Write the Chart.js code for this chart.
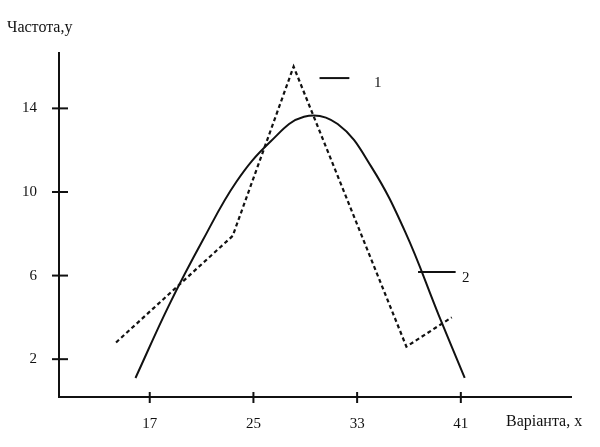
<!DOCTYPE html>
<html>
<head>
<meta charset="utf-8">
<script src="https://cdn.jsdelivr.net/npm/chart.js@4"></script>
<style>
  html, body { margin: 0; padding: 0; background: #fff; }
  #wrap { width: 600px; height: 447px; }
</style>
</head>
<body>
<div id="wrap"><canvas id="freqChart" width="600" height="447"></canvas></div>
<script>
// polygon of frequencies (dashed, 1)
const polyX = [14.4, 23.4, 28.1, 36.8, 40.3];
const polyY = [2.8, 7.9, 16.0, 2.6, 4.0];

// fitted curve (solid, 2)
const curveX = [15.9, 18.5, 21.1, 23.7, 26.3, 28.9, 31.5, 34.1, 36.7, 39.3, 41.3];
const curveY = [1.1, 4.6, 7.7, 10.5, 12.4, 13.6, 13.25, 11.2, 8.1, 4.1, 1.1];

// tick labels
const xTicks = [17, 25, 33, 41];
const yTicks = [2, 6, 10, 14];

// curve labels with their leader lines
const noteLabels = ['1', '2'];
const noteLineX = [[30.1, 32.4], [37.7, 40.6]];
const noteLineY = [15.45, 6.17];
const noteTextX = [34.3, 41.1];
const noteTextY = [15.2, 5.9];

const ink = '#111';
const serif = '"Liberation Serif", "DejaVu Serif", serif';

function toPoints(xs, ys) {
    return xs.map((x, i) => ({ x: x, y: ys[i] }));
}

const overlay = {
    id: 'overlay',
    afterDraw(chart) {
        const ctx = chart.ctx;
        const x = chart.scales.x;
        const y = chart.scales.y;
        const area = chart.chartArea;
        ctx.save();
        ctx.strokeStyle = ink;
        ctx.lineWidth = 2;
        // tick marks crossing the axes
        yTicks.forEach(v => {
            const py = y.getPixelForValue(v);
            ctx.beginPath();
            ctx.moveTo(area.left - 7, py);
            ctx.lineTo(area.left + 9, py);
            ctx.stroke();
        });
        xTicks.forEach(v => {
            const px = x.getPixelForValue(v);
            ctx.beginPath();
            ctx.moveTo(px, area.bottom - 5);
            ctx.lineTo(px, area.bottom + 6);
            ctx.stroke();
        });
        ctx.fillStyle = ink;
        ctx.font = '15px ' + serif;
        ctx.textBaseline = 'middle';
        noteLabels.forEach((t, i) => {
            ctx.textAlign = 'left';
            ctx.fillText(t, x.getPixelForValue(noteTextX[i]), y.getPixelForValue(noteTextY[i]));
        });
        // axis titles
        ctx.font = '16px ' + serif;
        ctx.textAlign = 'left';
        ctx.fillText('Частота,у', 7, 28);
        ctx.fillText('Варіанта, х', 506, 422);
        ctx.restore();
    }
};

const datasets = [
    {
        label: '1',
        data: toPoints(polyX, polyY),
        borderColor: ink,
        borderWidth: 2.2,
        borderDash: [4, 3],
        pointRadius: 0,
        tension: 0
    },
    {
        label: '2',
        data: toPoints(curveX, curveY),
        borderColor: ink,
        borderWidth: 2,
        pointRadius: 0,
        tension: 0.4
    }
];
noteLineX.forEach((xs, i) => {
    datasets.push({
        label: 'note' + noteLabels[i],
        data: toPoints(xs, [noteLineY[i], noteLineY[i]]),
        borderColor: ink,
        borderWidth: 2,
        pointRadius: 0
    });
});

new Chart(document.getElementById('freqChart').getContext('2d'), {
    type: 'line',
    data: { datasets: datasets },
    options: {
        responsive: false,
        animation: false,
        layout: { padding: { top: 53, right: 29, left: 0, bottom: 0 } },
        plugins: {
            legend: { display: false },
            tooltip: { enabled: false },
            title: { display: false }
        },
        scales: {
            x: {
                type: 'linear',
                min: 10,
                max: 49.5,
                afterBuildTicks: s => { s.ticks = xTicks.map(v => ({ value: v })); },
                afterFit: s => { s.height = 50; },
                grid: { display: false, drawTicks: false },
                border: { display: true, color: ink, width: 2 },
                ticks: {
                    color: ink,
                    padding: 18,
                    maxRotation: 0,
                    font: { family: serif, size: 15 }
                }
            },
            y: {
                type: 'linear',
                min: 0.19,
                max: 16.65,
                afterBuildTicks: s => { s.ticks = yTicks.map(v => ({ value: v })); },
                afterFit: s => { s.width = 59; },
                grid: { display: false, drawTicks: false },
                border: { display: true, color: ink, width: 2 },
                ticks: {
                    color: ink,
                    padding: 22,
                    font: { family: serif, size: 15 }
                }
            }
        }
    },
    plugins: [overlay]
});
</script>
</body>
</html>
